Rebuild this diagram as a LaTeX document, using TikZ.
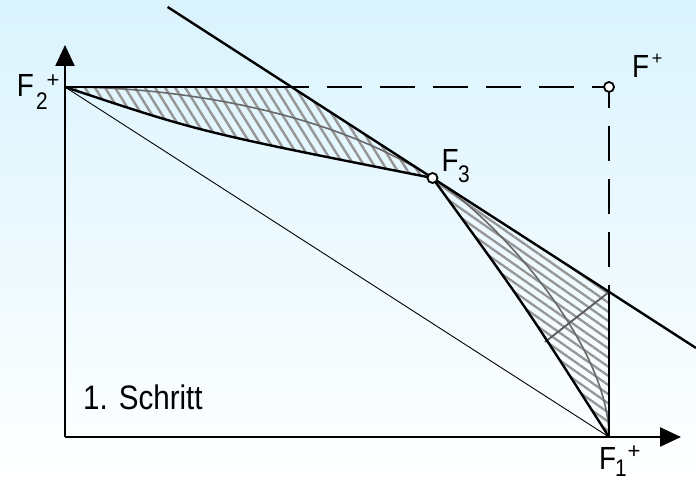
\documentclass[tikz,border=0pt]{standalone}
\usepackage{fontspec}
\setmainfont{Liberation Sans}
\usetikzlibrary{arrows.meta,patterns.meta}
\definecolor{bgtop}{RGB}{218,243,253}
\definecolor{hatchc}{RGB}{150,150,150}
\definecolor{arcc}{RGB}{105,105,105}
\tikzset{
  thickline/.style={line width=2.4pt, black},
  thinline/.style={line width=0.9pt, black},
  arcline/.style={line width=1.6pt, arcc},
  dashline/.style={line width=2.2pt, black, dash pattern=on 35pt off 18pt},
  axisline/.style={line width=2.4pt, black, -{Triangle[length=21pt,width=19pt]}},
  ptcircle/.style={circle, draw=black, line width=1.8pt, fill=white, minimum size=10pt, inner sep=0pt},
  lblF/.style={anchor=base, inner sep=0pt, font=\fontsize{32}{36}\selectfont},
  lblsub/.style={anchor=base, inner sep=0pt, font=\fontsize{24}{28}\selectfont},
  lblsup/.style={anchor=base, inner sep=0pt, font=\fontsize{22}{26}\selectfont},
}
\newcommand{\nx}[1]{\scalebox{0.87}[1]{#1}}
\begin{document}
\begin{tikzpicture}[x=1pt,y=1pt]
\useasboundingbox (0,0) rectangle (696,481);
\shade[top color=bgtop, bottom color=white] (0,0) rectangle (696,481);
% key points (pixel y flipped)
\coordinate (O) at (65,44);
\coordinate (F2) at (65,394);
\coordinate (F1) at (609,44);
\coordinate (Fp) at (609,394);
\coordinate (F3) at (432.5,303);
\coordinate (T1) at (291.5,394);
\coordinate (T2) at (609,189);
\coordinate (L1) at (167.6,474);
\coordinate (L2) at (696,133);
\coordinate (P) at (545,139);
\coordinate (Ytip) at (65,436);
\coordinate (Xtip) at (681,44);
% hatched regions
\fill[pattern={Lines[angle=-58,distance=8.5pt,line width=2.4pt]}, pattern color=hatchc]
  (F2) -- (T1) -- (F3) .. controls (200,349) .. (F2) -- cycle;
\fill[pattern={Lines[angle=-35,distance=7.5pt,line width=2.3pt]}, pattern color=hatchc]
  (F3) -- (T2) -- (F1) .. controls (524,177) .. (F3) -- cycle;
% pareto front arcs
\draw[arcline] (F2) .. controls (185,394) and (332,367.6) .. (F3);
\draw[arcline] (F3) .. controls (502,258) and (609,134) .. (F1);
\draw[line width=1.8pt, arcc!85!black] (T2) -- (P);
% thin diagonal
\draw[thinline] (F2) -- (F1);
% dashed lines
\draw[dashline, dash phase=17.5pt] (T1) -- (Fp);
\draw[dashline, dash phase=14pt] (Fp) -- (T2);
% thick boundaries
\draw[thickline] (F2) -- (T1);
\draw[thickline] (F2) .. controls (200,349) .. (F3);
\draw[thickline] (F3) .. controls (524,177) .. (F1);
\draw[thickline] (T2) -- (F1);
\draw[thickline] (L1) -- (L2);
% axes
\draw[axisline] (O) -- (Ytip);
\draw[axisline] (O) -- (Xtip);
% points
\node[ptcircle] (cF3) at (F3) {};
\node[ptcircle] (cFp) at (Fp) {};
% labels
\node[lblF] (lF2) at (25.5,384) {\nx{F}};
\node[lblsub] (lF2s) at (42,371) {\nx{2}};
\node[lblsup] (lF2p) at (53,393) {+};
\node[lblF] (lF3) at (450,309) {\nx{F}};
\node[lblsub] (lF3s) at (464,298) {\nx{3}};
\node[lblF] (lFp) at (640.5,403) {\nx{F}};
\node[anchor=base, inner sep=0pt, font=\fontsize{18}{20}\selectfont] (lFpp) at (657,416) {+};
\node[lblF] (lF1) at (607.5,11) {\nx{F}};
\node[lblsub] (lF1s) at (621,4.5) {\nx{1}};
\node[lblsup] (lF1p) at (634,22) {+};
\node[anchor=base west, inner sep=0pt, font=\fontsize{34}{38}\selectfont] (step1) at (83,71) {\nx{1. Schritt}};
\end{tikzpicture}
\end{document}
